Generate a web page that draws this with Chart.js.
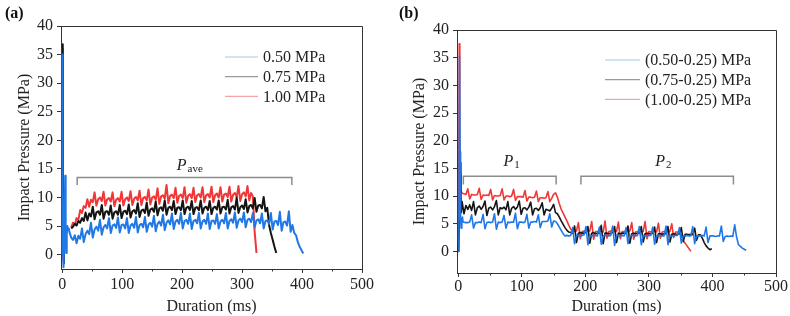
<!DOCTYPE html>
<html>
<head>
<meta charset="utf-8">
<script src="https://cdn.jsdelivr.net/npm/chart.js@4.4.0/dist/chart.umd.min.js"></script>
<style>
  body { margin: 0; background: #fff; width: 790px; height: 316px; overflow: hidden; position: relative; font-family: 'Liberation Serif', 'Times New Roman', serif; }
  .panel { position: absolute; top: 0; width: 395px; height: 316px; }
  .tag { position: absolute; top: 5px; font-weight: bold; font-size: 16px; line-height: 16px; color: #111; }
</style>
</head>
<body>
<div class="panel" style="left:0"><canvas id="chartA" width="395" height="316"></canvas></div>
<div class="panel" style="left:395px"><canvas id="chartB" width="395" height="316"></canvas></div>
<div class="tag" style="left:5px">(a)</div>
<div class="tag" style="left:399px">(b)</div>
<script>
// ---- axis ticks ----
const xTickValues = [0, 100, 200, 300, 400, 500];
const xMinorTickValues = [50, 150, 250, 350, 450];
const yTickValues = [0, 5, 10, 15, 20, 25, 30, 35, 40];

// ---- series names ----
const namesA = ['0.50 MPa', '0.75 MPa', '1.00 MPa'];
const namesB = ['(0.50-0.25) MPa', '(0.75-0.25) MPa', '(1.00-0.25) MPa'];

// samples after the onset are 3 ms apart
const sampleStep = 3;

// ---- (a) 0.50 MPa ----
const onsetTimeA050 = [0, 0.3, 0.8, 1.5, 2.2, 3.2, 4.2, 5.0, 5.8, 6.6, 7.6, 8.6, 9.8, 11];
const onsetA050 = [0, 35.0, 16.0, 1.0, -2.2, 1.5, 8.0, 13.8, 4.0, 0.3, 3.5, 5.0, 4.3, 4.6];
const startA050 = 12;
const pressureA050 = [
  4.0, 3.0, 2.6, 3.4, 2.0,
  3.3, 2.8, 4.6, 2.2, 3.6,
  4.2, 3.6, 5.6, 3.0, 4.4,
  4.9, 4.2, 6.1, 3.5, 4.8,
  5.2, 4.6, 6.4, 3.8, 5.1,
  5.3, 4.7, 6.5, 3.9, 5.2,
  5.3, 4.6, 6.4, 3.8, 5.1,
  5.4, 4.7, 6.6, 3.9, 5.2,
  5.4, 4.8, 6.6, 4.0, 5.3,
  5.6, 4.9, 6.8, 4.1, 5.4,
  5.8, 5.1, 7.0, 4.3, 5.6,
  6.0, 5.3, 7.2, 4.5, 5.8,
  6.1, 5.4, 7.3, 4.6, 5.9,
  6.1, 5.4, 7.2, 4.5, 5.9,
  6.1, 5.5, 7.3, 4.6, 5.8,
  6.1, 5.4, 7.2, 4.5, 5.9,
  6.0, 5.4, 7.1, 4.6, 5.8,
  6.1, 5.5, 7.3, 4.6, 5.9,
  6.2, 5.6, 7.4, 4.7, 6.0,
  6.3, 5.7, 7.4, 4.8, 6.1,
  6.3, 5.7, 7.3, 4.8, 6.0,
  6.2, 5.5, 7.2, 4.6, 5.9,
  6.0, 5.4, 7.3, 4.4, 5.8,
  5.9, 5.2, 7.5, 4.2, 5.7,
  5.8, 5.1, 7.6, 4.0, 5.2,
  3.8, 3.4, 2.2, 1.4, 0.8,
  0.2
];

// ---- (a) 0.75 MPa ----
const onsetTimeA075 = [0, 0.6, 1.2, 1.9, 2.8];
const onsetA075 = [0, 36.8, 12.0, 1.0, -1.5];
const startA075 = 15;
const pressureA075 = [
  4.6, 4.9, 5.4, 5.1, 5.9,
  5.6, 6.4, 5.9, 7.4, 6.0,
  7.2, 6.7, 8.4, 6.2, 7.4,
  7.6, 7.0, 8.7, 6.3, 7.5,
  7.6, 7.0, 8.6, 6.3, 7.4,
  7.6, 7.0, 8.7, 6.4, 7.5,
  7.7, 7.1, 8.8, 6.5, 7.6,
  7.8, 7.2, 9.0, 6.6, 7.7,
  7.9, 7.3, 9.1, 6.8, 7.9,
  8.1, 7.5, 9.3, 6.9, 8.1,
  8.3, 7.7, 9.5, 7.0, 8.2,
  8.4, 7.8, 9.4, 7.1, 8.2,
  8.3, 7.8, 9.5, 7.1, 8.2,
  8.4, 7.8, 9.4, 7.1, 8.2,
  8.3, 7.8, 9.5, 7.2, 8.2,
  8.4, 7.8, 9.4, 7.1, 8.2,
  8.4, 7.9, 9.5, 7.2, 8.3,
  8.4, 7.9, 9.6, 7.2, 8.3,
  8.5, 7.9, 10.0, 7.3, 8.3,
  8.6, 8.0, 9.7, 7.4, 8.5,
  8.7, 8.1, 9.9, 7.5, 8.6,
  8.7, 8.1, 10.1, 7.6, 8.2,
  5.2, 3.8, 2.6, 1.4, 0.3
];

// ---- (a) 1.00 MPa ----
const onsetTimeA100 = [0, 0.5, 1.0, 1.6, 2.4];
const onsetA100 = [0, 36.0, 15.0, 2.0, -1.0];
const startA100 = 15;
const pressureA100 = [
  4.8, 5.6, 5.2, 6.4, 6.1,
  7.8, 7.3, 8.5, 8.2, 9.7,
  8.4, 9.6, 9.2, 10.9, 8.6,
  9.7, 10.0, 9.4, 11.0, 8.6,
  9.7, 9.9, 9.3, 10.9, 8.5,
  9.6, 9.9, 9.3, 11.0, 8.6,
  9.7, 10.0, 9.4, 11.1, 8.7,
  9.8, 10.1, 9.5, 11.2, 8.7,
  9.9, 10.1, 9.5, 11.4, 8.8,
  10.0, 10.2, 9.6, 11.6, 8.9,
  10.2, 10.4, 9.8, 12.2, 9.0,
  10.3, 10.5, 9.9, 11.7, 9.1,
  10.3, 10.5, 9.9, 11.8, 9.1,
  10.3, 10.6, 9.9, 11.7, 9.2,
  10.4, 10.6, 10.0, 11.8, 9.2,
  10.4, 10.6, 10.0, 11.9, 9.2,
  10.4, 10.7, 10.0, 11.8, 9.3,
  10.5, 10.7, 10.1, 11.9, 9.3,
  10.5, 10.8, 10.1, 12.0, 9.4,
  10.6, 10.9, 10.2, 12.0, 9.5,
  10.8, 10.2, 4.0, 0.3
];

// ---- (b) (0.50-0.25) MPa ----
const onsetTimeB050 = [0, 1.0, 2.0, 2.8, 3.6, 4.6, 5.6, 6.6, 7.6];
const onsetB050 = [0, 3.0, 35.3, 18.0, 6.0, 4.2, 5.8, 6.2, 5.3];
const startB050 = 9;
const pressureB050 = [
  5.3, 5.2, 5.2, 5.3, 6.6, 4.2, 5.2, 5.2,
  5.3, 5.2, 6.7, 4.1, 5.2, 5.3, 5.2, 5.3,
  6.8, 4.0, 5.3, 5.2, 5.3, 6.5, 4.2, 5.3,
  5.2, 5.3, 5.3, 6.9, 4.1, 5.3, 5.3, 5.2,
  5.3, 6.7, 4.2, 5.3, 5.3, 5.4, 5.3, 6.6,
  4.3, 5.4, 5.4, 5.4, 5.5, 6.8, 4.4, 5.5,
  5.4, 5.0, 4.4, 3.8, 3.2, 2.8,
  2.9, 2.8, 2.9, 4.3, 1.4, 2.9, 2.9,
  2.8, 2.9, 3.0, 4.5, 1.2, 2.9, 2.8,
  2.9, 2.9, 2.8, 4.4, 1.3, 2.8, 2.9,
  2.9, 2.8, 2.9, 4.6, 1.1, 2.9, 2.9,
  2.8, 2.9, 2.8, 4.3, 1.4, 2.8, 2.9,
  2.9, 2.8, 2.9, 4.5, 1.2, 2.9, 2.8,
  2.8, 2.9, 2.9, 4.4, 1.3, 2.8, 2.9,
  2.9, 2.8, 2.8, 4.6, 1.2, 2.9, 2.8,
  2.8, 2.9, 2.9, 4.3, 1.5, 2.8, 2.8,
  2.9, 2.8, 2.8, 4.5, 1.4, 2.8, 2.8,
  2.8, 2.9, 2.8, 4.4, 1.6, 2.8, 2.8,
  2.8, 2.7, 2.8, 2.8, 4.6, 1.8, 2.7,
  2.8, 2.7, 2.8, 2.7, 4.8, 2.6, 1.2,
  0.9, 0.6, 0.4, 0.2
];

// ---- (b) (0.75-0.25) MPa ----
const onsetTimeB075 = [0, 1.5, 3.0, 4.0, 4.8];
const onsetB075 = [0, 4.0, 16.0, 11.0, 7.0];
const startB075 = 6;
const pressureB075 = [
  9.0, 6.8, 8.3, 7.6, 8.4, 7.4, 9.0, 6.6,
  7.9, 8.2, 7.6, 8.1, 9.1, 6.5, 7.8, 8.0,
  7.5, 8.1, 9.2, 6.6, 7.9, 7.7, 8.0, 7.5,
  9.0, 6.6, 7.8, 8.1, 7.6, 8.0, 9.1, 6.7,
  7.8, 7.9, 7.5, 8.0, 8.9, 6.6, 7.7, 7.8,
  7.4, 7.9, 8.8, 6.6, 7.6, 7.5, 7.3, 7.8,
  8.5, 7.0, 6.8, 6.2, 5.5, 4.9, 4.3, 3.8,
  3.5, 3.4, 3.3, 4.6, 1.6, 3.3, 3.4, 3.3,
  3.3, 3.4, 4.5, 1.5, 3.3, 3.4, 3.2, 3.3,
  3.3, 4.7, 1.4, 3.3, 3.3, 3.2, 3.3, 3.4,
  4.5, 1.6, 3.3, 3.2, 3.3, 3.3, 3.2, 4.6,
  1.5, 3.2, 3.3, 3.2, 3.3, 3.3, 4.5, 1.7,
  3.2, 3.3, 3.2, 3.2, 3.3, 4.4, 1.6, 3.2,
  3.2, 3.1, 3.2, 3.2, 4.5, 1.7, 3.1, 3.2,
  3.1, 3.1, 3.2, 4.3, 1.8, 3.1, 3.1, 3.0,
  3.1, 3.0, 4.2, 2.0, 3.0, 3.0, 2.4, 1.6,
  1.0, 0.6, 0.3, 0.5
];

// ---- (b) (1.00-0.25) MPa ----
const onsetTimeB100 = [0, 0.6, 1.6, 2.4, 3.2, 4.2, 5.0];
const onsetB100 = [0, 8.0, 37.5, 20.0, 14.0, 11.5, 10.8];
const startB100 = 6;
const pressureB100 = [
  10.5, 10.4, 10.3, 11.3, 9.5, 10.3, 10.2, 10.2,
  10.3, 11.4, 9.4, 10.2, 10.1, 10.2, 10.1, 11.2,
  9.3, 10.1, 10.0, 10.0, 10.1, 11.3, 9.3, 10.0,
  10.0, 9.9, 10.0, 11.2, 9.2, 9.9, 9.9, 9.9,
  9.8, 11.0, 9.1, 9.8, 9.8, 9.7, 9.8, 10.9,
  9.0, 9.7, 9.7, 9.6, 9.7, 10.8, 9.0, 9.6,
  10.3, 10.6, 9.8, 8.6, 7.6, 6.9, 6.2, 5.5,
  4.7, 4.0, 3.7, 3.6, 3.7, 5.2, 2.3, 3.6,
  3.7, 3.6, 3.6, 3.7, 5.4, 2.2, 3.6, 3.6,
  3.7, 3.6, 3.5, 5.5, 2.4, 3.6, 3.7, 3.6,
  3.6, 3.6, 5.3, 2.3, 3.6, 3.6, 3.5, 3.6,
  3.7, 5.2, 2.2, 3.5, 3.6, 3.6, 3.5, 3.6,
  5.4, 2.3, 3.6, 3.5, 3.6, 3.6, 3.5, 5.1,
  2.4, 3.5, 3.6, 3.5, 3.5, 3.6, 5.0, 2.5,
  3.5, 3.5, 3.4, 2.8, 1.9, 1.5, 1.0, 0.5,
  0.0
];

// brackets over the plateaus (data units)
const bracketsA = [{ from: 25, to: 383, y: 13.5, end: 12.2, main: 'P', sub: 'ave', at: 191, textY: 14.8 }];
const bracketsB = [
  { from: 8, to: 154, y: 13.6, end: 12.1, main: 'P', sub: '1', at: 71, textY: 15.4 },
  { from: 193, to: 433, y: 13.6, end: 12.1, main: 'P', sub: '2', at: 310, textY: 15.4 }
];

const FONT = "'Liberation Serif', 'Times New Roman', serif";
const INK = '#222';
const lineColors = ['#1f78e6', '#141414', '#f03636'];
const legendColors = ['#9ecbf2', '#9a9a9a', '#f4a4a4'];

function buildSeries(onsetT, onsetP, start, values, joined) {
  const pts = onsetT.map((t, i) => ({ x: t, y: onsetP[i] }));
  if (!joined) pts.push({ x: (onsetT[onsetT.length - 1] + start) / 2, y: null });
  values.forEach((v, i) => pts.push({ x: start + i * sampleStep, y: v }));
  return pts;
}

function makeDatasets(names, series, width) {
  return series.map((pts, i) => ({
    label: names[i],
    data: pts,
    borderColor: lineColors[i],
    legendColor: legendColors[i],
    borderWidth: width,
    borderJoinStyle: 'round',
    pointRadius: 0,
    tension: 0,
    spanGaps: false
  }));
}

// frame, minor ticks, brackets and in-plot legend
const panelExtras = {
  id: 'panelExtras',
  afterDraw(chart, args, opts) {
    const ctx = chart.ctx;
    const a = chart.chartArea;
    const xs = chart.scales.x, ys = chart.scales.y;
    ctx.save();
    // top and right frame
    ctx.strokeStyle = '#333';
    ctx.lineWidth = 1;
    ctx.beginPath();
    ctx.moveTo(a.left, a.top + 0.5);
    ctx.lineTo(a.right + 0.5, a.top + 0.5);
    ctx.lineTo(a.right + 0.5, a.bottom);
    ctx.stroke();
    // minor x ticks
    ctx.beginPath();
    xMinorTickValues.forEach(v => {
      const px = Math.round(xs.getPixelForValue(v)) + 0.5;
      ctx.moveTo(px, a.bottom);
      ctx.lineTo(px, a.bottom + 2.5);
    });
    ctx.stroke();
    // brackets
    ctx.strokeStyle = '#8c8c8c';
    ctx.lineWidth = 1.5;
    opts.brackets.forEach(b => {
      const x0 = xs.getPixelForValue(b.from), x1 = xs.getPixelForValue(b.to);
      const y = ys.getPixelForValue(b.y), ye = ys.getPixelForValue(b.end);
      ctx.beginPath();
      ctx.moveTo(x0, ye); ctx.lineTo(x0, y); ctx.lineTo(x1, y); ctx.lineTo(x1, ye);
      ctx.stroke();
      const tx = xs.getPixelForValue(b.at), ty = ys.getPixelForValue(b.textY);
      ctx.fillStyle = INK;
      ctx.textBaseline = 'alphabetic';
      ctx.textAlign = 'left';
      ctx.font = 'italic 16px ' + FONT;
      ctx.fillText(b.main, tx, ty);
      const w = ctx.measureText(b.main).width;
      ctx.font = '11px ' + FONT;
      ctx.fillText(b.sub, tx + w + 1, ty + 2);
    });
    // legend
    const L = opts.legend;
    ctx.font = '16px ' + FONT;
    ctx.textBaseline = 'middle';
    chart.data.datasets.forEach((ds, i) => {
      const y = L.y + i * L.gap;
      ctx.strokeStyle = ds.legendColor;
      ctx.lineWidth = 1.2;
      ctx.beginPath();
      ctx.moveTo(L.x, y); ctx.lineTo(L.x + L.len, y);
      ctx.stroke();
      ctx.fillStyle = INK;
      ctx.fillText(ds.label, L.x + L.len + 5, y + 1);
    });
    ctx.restore();
  }
};

function makeOptions(cfg) {
  const tickFont = { family: FONT, size: 16 };
  return {
    responsive: false,
    animation: false,
    events: [],
    layout: { padding: { left: 0, right: cfg.padRight, top: cfg.padTop, bottom: 0 } },
    plugins: {
      legend: { display: false },
      tooltip: { enabled: false },
      panelExtras: { brackets: cfg.brackets, legend: cfg.legend }
    },
    scales: {
      x: {
        type: 'linear', min: -2, max: 500,
        afterBuildTicks: s => { s.ticks = xTickValues.map(v => ({ value: v })); },
        afterFit: s => { s.height = cfg.xHeight; },
        grid: { drawOnChartArea: false, tickLength: 4, color: '#333' },
        border: { color: '#333' },
        ticks: { font: tickFont, color: INK, padding: cfg.xPad, maxRotation: 0, autoSkip: false },
        title: { display: true, text: 'Duration (ms)', font: tickFont, color: INK, padding: { top: 0, bottom: 0 } }
      },
      y: {
        type: 'linear', min: cfg.yMin, max: 40,
        afterBuildTicks: s => { s.ticks = yTickValues.map(v => ({ value: v })); },
        afterFit: s => { s.width = cfg.yWidth; },
        grid: { drawOnChartArea: false, tickLength: 4, color: '#333' },
        border: { color: '#333' },
        ticks: { font: tickFont, color: INK, padding: 4 },
        title: { display: true, text: 'Impact Pressure (MPa)', font: tickFont, color: INK, padding: { top: 15, bottom: 0 } }
      }
    }
  };
}

new Chart(document.getElementById('chartA'), {
  type: 'line',
  data: {
    datasets: makeDatasets(namesA, [
      buildSeries(onsetTimeA050, onsetA050, startA050, pressureA050, true),
      buildSeries(onsetTimeA075, onsetA075, startA075, pressureA075, false),
      buildSeries(onsetTimeA100, onsetA100, startA100, pressureA100, false)
    ], 2)
  },
  options: makeOptions({ padRight: 33, padTop: 26, xHeight: 47, yWidth: 61, yMin: -2.5, xPad: 2,
    brackets: bracketsA, legend: { x: 225, y: 57, gap: 19.7, len: 33 } }),
  plugins: [panelExtras]
});

new Chart(document.getElementById('chartB'), {
  type: 'line',
  data: {
    datasets: makeDatasets(namesB, [
      buildSeries(onsetTimeB050, onsetB050, startB050, pressureB050, true),
      buildSeries(onsetTimeB075, onsetB075, startB075, pressureB075, true),
      buildSeries(onsetTimeB100, onsetB100, startB100, pressureB100, true)
    ], 1.6)
  },
  options: makeOptions({ padRight: 14, padTop: 30, xHeight: 43, yWidth: 62, yMin: -3.9, xPad: 0,
    brackets: bracketsB, legend: { x: 210, y: 60, gap: 19.7, len: 35 } }),
  plugins: [panelExtras]
});
</script>
</body>
</html>
